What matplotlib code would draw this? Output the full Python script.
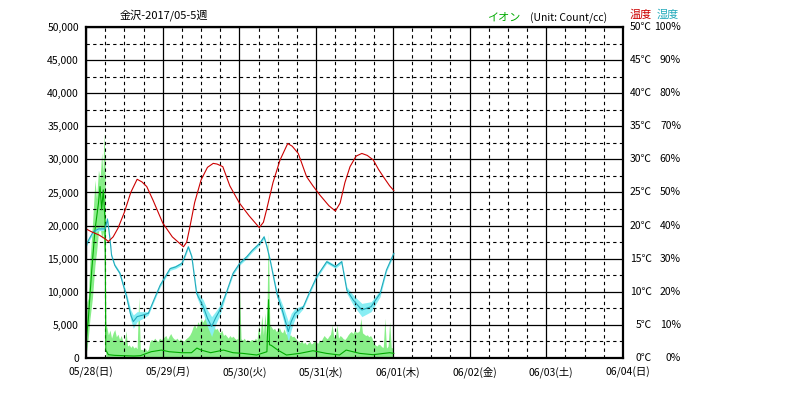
import numpy as np
import matplotlib.pyplot as plt
from matplotlib.ticker import MultipleLocator
from matplotlib.transforms import ScaledTranslation, blended_transform_factory

plt.rcParams['font.family'] = ['Noto Sans CJK JP', 'DejaVu Sans']

# axis labels
day_labels = ['05/28(日)', '05/29(月)', '05/30(火)', '05/31(水)',
              '06/01(木)', '06/02(金)', '06/03(土)', '06/04(日)']
temp_ticks = [0, 5, 10, 15, 20, 25, 30, 35, 40, 45, 50]
hum_ticks = [0, 10, 20, 30, 40, 50, 60, 70, 80, 90, 100]

# temperature (hours from 05/28 00:00, deg C)
temp_h = [0, 2, 4, 6, 7, 8.5, 10, 12, 14, 16, 17.5, 19, 21, 24, 27, 30.5, 31.5,
          32.5, 34, 36, 38, 39.8, 41, 42.8, 45, 48, 51, 54.2, 55.5, 56.5, 58.5,
          60.7, 63.1, 64.5, 66.4, 69, 71, 73.2, 76, 78, 79.5, 81, 82.6, 84.5,
          86.3, 88, 89.9, 91.5, 93, 95, 96.3]
temp_c = [19.5, 19.0, 18.6, 18.0, 17.6, 18.3, 19.6, 22.0, 25.0, 27.0, 26.6, 25.9,
          23.8, 20.4, 18.3, 16.8, 17.5, 19.8, 23.5, 26.9, 28.8, 29.4, 29.3, 28.9,
          26.0, 23.4, 21.5, 19.7, 20.5, 22.4, 26.5, 29.9, 32.4, 32.0, 30.9, 27.4,
          26.0, 24.6, 23.0, 22.2, 23.4, 26.5, 28.9, 30.5, 30.9, 30.6, 29.9, 28.5,
          27.4, 26.0, 25.3]

# humidity (%), with half-width of the min/max band
hum_h = [0, 1, 2.3, 3.9, 6, 6.7, 7.5, 8, 9, 10.6, 12.7, 14, 14.8, 16, 17.9, 19.5,
         21, 23.2, 26.3, 28, 30, 31, 32, 33.1, 34.6, 36.7, 38, 39.3, 40.5, 41.9,
         44, 46, 48, 50.3, 52, 54.4, 55.7, 56.5, 57.6, 59.7, 61.7, 63.3, 64.2,
         65.4, 68, 70, 72.2, 75.3, 78, 80, 81.6, 83.6, 86.3, 89.2, 92, 94, 96.3]
hum_pct = [34, 36, 38.2, 39, 39, 42, 36, 31, 28, 25.6, 18.5, 13, 11, 12.5, 13,
           13.5, 17, 22, 27, 27.5, 28.6, 31, 33.6, 30.6, 19.5, 15.5, 12, 9.5, 12,
           14.5, 20, 25.6, 28.5, 30.6, 32.5, 34.7, 36.6, 34, 29.6, 19.5, 13.5, 8.0,
           11, 13.5, 15.5, 20, 24.6, 29.1, 27.6, 29.1, 20.5, 17.5, 14.5, 15.5, 19.5,
           26.6, 31.6]
hum_band = [0.5, 0.5, 0.5, 0.5, 0.5, 0.5, 0.5, 0.5, 0.5, 0.5, 1, 1.5, 2, 1.5, 1,
            0.5, 0.5, 0.5, 0.5, 0.5, 0.5, 0.5, 0.5, 0.5, 1, 2, 2.5, 3, 2, 1.5,
            0.5, 0.5, 0.5, 0.5, 0.5, 0.5, 0.5, 0.5, 0.5, 1, 2, 3, 2.5, 1.5, 0.5,
            0.5, 0.5, 0.5, 0.5, 0.5, 1, 1.5, 2, 1.5, 1, 0.5, 0.5]

# ion average (Count/cc)
ion_avg_h = [0, 0.7, 1.8, 2.8, 3.9, 4.4, 4.9, 5.4, 5.95, 6.2, 7, 9, 12, 15, 17,
             20.4, 23.6, 26, 30, 33, 34.7, 36, 39, 43, 46, 49, 53.4, 56.6, 57.1,
             57.4, 58, 60, 62.7, 66.9, 71, 75.2, 79.3, 81.4, 85.6, 89.8, 95, 96.3]
ion_avg = [2500, 5700, 13300, 19300, 23400, 25900, 22400, 25400, 20800, 1200, 500,
           400, 350, 300, 350, 950, 1200, 950, 800, 800, 1500, 1200, 800, 1200, 800,
           700, 450, 950, 8800, 2000, 1900, 1200, 450, 700, 1100, 700, 450, 1200,
           700, 500, 800, 700]

# ion max / min, first hours
ion_early_h = [0, 0.3, 0.7, 1.25, 2, 2.8, 3.3, 3.9, 4.4, 4.9, 5.3, 5.6, 5.95, 6.2]
ion_early_hi = [3000, 8500, 9000, 14800, 20000, 26900, 24000, 28400, 27000, 31000,
                28000, 34000, 30000, 5000]
ion_early_lo = [500, 1500, 3000, 6000, 9000, 14000, 16000, 19000, 20000, 18000,
                19000, 17000, 15000, 0]
# ion max, every 30 min from 6.5 h
ion_hi_late = [4700,
               3500, 4200, 3000, 3800, 4300, 3200, 3600, 2800, 3400, 2600,
               2200, 4100, 1800, 2000, 1600, 1900, 1500, 1700, 1400, 9200,
               1300, 1300, 1200, 1500, 1100, 1300, 2500, 2800, 2600, 3000,
               2700, 2500, 3000, 2800, 2900, 3200, 3400, 2800, 3300, 3700,
               3200, 2900, 2800, 3000, 2600, 2900, 2700, 2500, 2800, 3000,
               3200, 3500, 4000, 4700, 5000, 4500, 5500, 5000, 6000, 5400,
               5800, 6200, 5200, 5600, 5000, 4700, 4800, 4300, 4500, 4000,
               3800, 4200, 3400, 3600, 3300, 3000, 3400, 3100, 3300, 3000,
               2800, 3000, 11000, 2900, 2700, 3000, 2600, 2800, 2500, 2700,
               2800, 2600, 3000, 2700, 5000, 3200, 6500, 3500, 6800, 3000,
               18900, 5000, 4700, 4300, 4500, 4000, 4200, 4600, 4000, 3800,
               4400, 3600, 3800, 3400, 3500, 3200, 3300, 3000, 2700, 2500,
               2300, 2600, 2200, 2400, 2000, 2300, 2500, 2100, 2300, 2600,
               2400, 2200, 2700, 2500, 3000, 3400, 3100, 2900, 3300, 3600,
               5000, 3200, 3100, 5000, 3000, 3400, 3200, 2900, 2800, 3100,
               3500, 3800, 4000, 3700, 4200, 3900, 3900, 4100, 6000, 3800,
               3600, 3400, 3500, 3200, 3400, 3000, 2200, 2000, 1800, 2100,
               2000, 1700, 1600, 6000, 1500, 1800, 5500, 1600,
               1500]

late_h = 6.5 + 0.5 * np.arange(len(ion_hi_late))
ion_h = np.concatenate([ion_early_h, late_h])
ion_hi = np.concatenate([ion_early_hi, ion_hi_late])
ion_lo = np.concatenate([ion_early_lo, np.zeros(len(ion_hi_late))])

fig = plt.figure(figsize=(7.86, 3.99), dpi=100)
ax = fig.add_axes([86 / 786, 1 - 358 / 399, 537 / 786, 331 / 399])

# ions
ax.fill_between(ion_h, ion_lo, ion_hi, color='#88EE88', lw=0, zorder=1)
ax.plot(ion_avg_h, ion_avg, color='#00AA00', lw=0.8, zorder=3)

# humidity (0-100% on 0-50000)
hum = np.array(hum_pct) * 500
band = np.array(hum_band) * 500
ax.fill_between(hum_h, hum - band, hum + band, color='#88EEF4', lw=0, zorder=1.2)
ax.plot(hum_h, hum, color='#22AABB', lw=0.8, zorder=3)

# temperature (0-50 C on 0-50000)
ax.plot(temp_h, np.array(temp_c) * 1000, color='#CC0000', lw=0.8, zorder=3)

ax.set_xlim(0, 168)
ax.set_ylim(0, 50000)
ax.set_axisbelow(False)

ax.xaxis.set_major_locator(MultipleLocator(24))
ax.xaxis.set_minor_locator(MultipleLocator(6))
ax.yaxis.set_major_locator(MultipleLocator(5000))
ax.yaxis.set_minor_locator(MultipleLocator(2500))
ax.grid(which='major', color='black', lw=0.9, ls='-')
ax.grid(which='minor', color='black', lw=0.8, ls=(0, (3, 3)))
for gl in ax.get_xgridlines() + ax.get_ygridlines():
    gl.set_zorder(2)

ax.set_xticks(np.arange(0, 169, 24))
ax.set_xticklabels(day_labels)
ax.set_yticklabels([f'{int(v):,}' for v in ax.get_yticks()])
ax.tick_params(which='both', length=0)
ax.tick_params(axis='y', pad=5, labelsize=7.5)
ax.tick_params(axis='x', pad=6, labelsize=7.5)
shift = ScaledTranslation(5 / 100, 0, fig.dpi_scale_trans)
for lab in ax.get_xticklabels():
    lab.set_transform(lab.get_transform() + shift)

for sp in ax.spines.values():
    sp.set_linewidth(1.6)
    sp.set_zorder(4)

# right-hand scales
tr = blended_transform_factory(ax.transAxes, ax.transData)
for t, h in zip(temp_ticks, hum_ticks):
    ax.text(1 + 29 / 537, t * 1000, f'{t}℃', transform=tr, ha='right',
            va='center', fontsize=7.5)
    ax.text(1 + 58 / 537, h * 500, f'{h}%', transform=tr, ha='right',
            va='center', fontsize=7.5)

fig.text(120 / 786, 1 - 15 / 399, '金沢-2017/05-5週', ha='left', va='center',
         fontsize=8)
fig.text(487 / 786, 1 - 18 / 399, 'イオン', ha='left', va='center',
         fontsize=8, color='#00AA00')
fig.text(530 / 786, 1 - 18 / 399, '(Unit: Count/cc)', ha='left', va='center',
         fontsize=7.5)
fig.text(630 / 786, 1 - 15 / 399, '温度', ha='left', va='center',
         fontsize=8, color='#CC0000')
fig.text(657 / 786, 1 - 15 / 399, '湿度', ha='left', va='center',
         fontsize=8, color='#22AABB')

fig.savefig('out.png', dpi=100)
